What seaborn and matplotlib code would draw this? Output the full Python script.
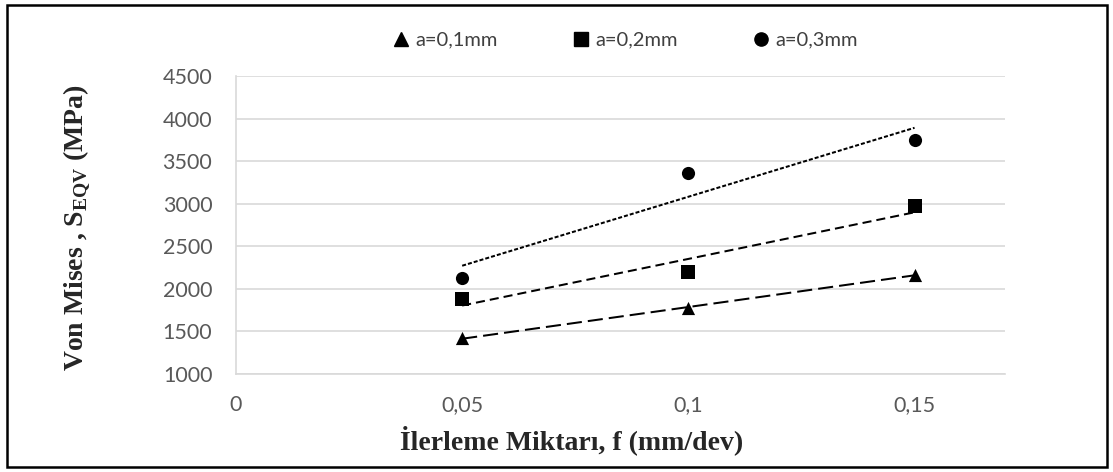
import numpy as np
import pandas as pd
import seaborn as sns
import matplotlib.pyplot as plt
from matplotlib.lines import Line2D
from matplotlib.patches import Rectangle

# feed rate f (mm/dev) and von Mises stress (MPa) for each depth of cut
feed = [0.05, 0.1, 0.15]
s_a01 = [1420, 1775, 2165]
s_a02 = [1880, 2200, 2975]
s_a03 = [2130, 3365, 3750]
labels = ['a=0,1mm', 'a=0,2mm', 'a=0,3mm']
x_ticks = [0, 0.05, 0.1, 0.15]
x_ticklabels = ['0', '0,05', '0,1', '0,15']
y_ticks = [1000, 1500, 2000, 2500, 3000, 3500, 4000, 4500]

df = pd.DataFrame({'f': feed * 3,
                   'S': s_a01 + s_a02 + s_a03,
                   'a': [labels[0]] * 3 + [labels[1]] * 3 + [labels[2]] * 3})

sns.set_style('white')
plt.rcParams['mathtext.fontset'] = 'custom'
plt.rcParams['mathtext.rm'] = 'Liberation Serif:bold'

fig = plt.figure(figsize=(11.13, 4.72), dpi=100)
ax = fig.add_axes([0.212, 0.2076, 0.691, 0.6314])

markers = ['^', 's', 'o']
dashes = [(7.5, 3), (4.5, 2.5), (2, 1)]
for lab, m, d in zip(labels, markers, dashes):
    sub = df[df['a'] == lab]
    sns.regplot(data=sub, x='f', y='S', ax=ax, ci=None, truncate=True,
                marker=m, color='black',
                scatter_kws={'s': 90, 'zorder': 3, 'linewidths': 0, 'alpha': 1},
                line_kws={'lw': 1.45, 'dashes': d, 'zorder': 2})

ax.set_xlim(0, 0.17)
ax.set_ylim(1000, 4500)
ax.set_xticks(x_ticks)
ax.set_xticklabels(x_ticklabels)
ax.set_yticks(y_ticks)
ax.yaxis.grid(True, color='#d9d9d9', lw=1.2)
ax.xaxis.grid(False)
ax.set_axisbelow(True)
for sp in ['top', 'right']:
    ax.spines[sp].set_visible(False)
for sp in ['left', 'bottom']:
    ax.spines[sp].set_color('#d9d9d9')
    ax.spines[sp].set_linewidth(1.2)
ax.tick_params(axis='both', length=0, labelsize=15.5, labelcolor='#595959')
ax.tick_params(axis='y', pad=17)
ax.tick_params(axis='x', pad=15)
for t in ax.get_xticklabels() + ax.get_yticklabels():
    t.set_family('Lato')

ax.set_xlabel('İlerleme Miktarı, f (mm/dev)', family='Liberation Serif',
              fontweight='bold', fontsize=20)
ax.xaxis.set_label_coords(0.437, -0.171)
ax.set_ylabel(r'Von Mises , S$_{\rm EQV}$ (MPa)', family='Liberation Serif',
              fontweight='bold', fontsize=20)
ax.yaxis.set_label_coords(-0.186, 0.493)

handles = [Line2D([], [], ls='none', marker=m, color='black', markersize=9.5)
           for m in markers]
fig.legend(handles, labels, loc='center', bbox_to_anchor=(0.562, 0.915),
           ncol=3, frameon=False, handlelength=0.8, handletextpad=0.3,
           columnspacing=3.75, prop={'family': 'Lato', 'size': 14.5},
           labelcolor='#404040')

fig.patches.append(Rectangle((0.006, 0.011), 0.989, 0.978, transform=fig.transFigure,
                             fill=False, edgecolor='black', lw=1.8))

fig.savefig('out.png', dpi=100)
